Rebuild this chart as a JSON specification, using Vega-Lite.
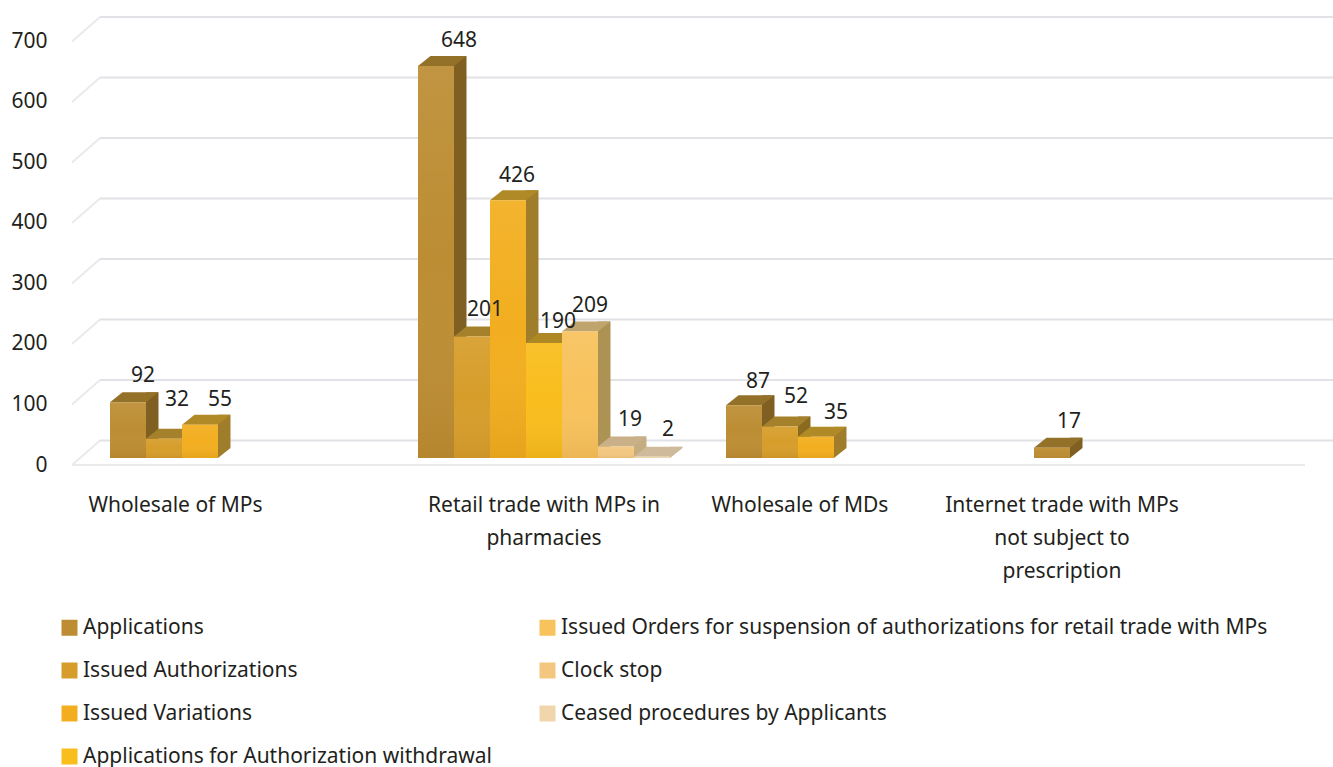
{
  "$schema": "https://vega.github.io/schema/vega-lite/v6.json",
  "width": 1333,
  "height": 767,
  "padding": 0,
  "autosize": "none",
  "background": "#ffffff",
  "config": {"view": {"stroke": null}, "text": {"font": "Noto Sans", "fontSize": 21, "color": "#231f20"}},
  "datasets": {
    "bars": [
      {"category": "Wholesale of MPs", "series": "Applications", "value": 92, "key": "a92"},
      {"category": "Wholesale of MPs", "series": "Issued Authorizations", "value": 32, "key": "a32"},
      {"category": "Wholesale of MPs", "series": "Issued Variations", "value": 55, "key": "a55"},
      {"category": "Retail trade with MPs in pharmacies", "series": "Applications", "value": 648, "key": "b648"},
      {"category": "Retail trade with MPs in pharmacies", "series": "Issued Authorizations", "value": 201, "key": "b201"},
      {"category": "Retail trade with MPs in pharmacies", "series": "Issued Variations", "value": 426, "key": "b426"},
      {"category": "Retail trade with MPs in pharmacies", "series": "Applications for Authorization withdrawal", "value": 190, "key": "b190"},
      {"category": "Retail trade with MPs in pharmacies", "series": "Issued Orders for suspension of authorizations for retail trade with MPs", "value": 209, "key": "b209"},
      {"category": "Retail trade with MPs in pharmacies", "series": "Clock stop", "value": 19, "key": "b19"},
      {"category": "Retail trade with MPs in pharmacies", "series": "Ceased procedures by Applicants", "value": 2, "key": "b2"},
      {"category": "Wholesale of MDs", "series": "Applications", "value": 87, "key": "c87"},
      {"category": "Wholesale of MDs", "series": "Issued Authorizations", "value": 52, "key": "c52"},
      {"category": "Wholesale of MDs", "series": "Issued Variations", "value": 35, "key": "c35"},
      {"category": "Internet trade with MPs not subject to prescription", "series": "Applications", "value": 17, "key": "d17"}
    ],
    "categories": [
      {"category": "Wholesale of MPs", "label": "Wholesale of MPs"},
      {"category": "Retail trade with MPs in pharmacies", "label": "Retail trade with MPs in\npharmacies"},
      {"category": "Wholesale of MDs", "label": "Wholesale of MDs"},
      {"category": "Internet trade with MPs not subject to prescription", "label": "Internet trade with MPs\nnot subject to\nprescription"}
    ],
    "wallLines": [
      {"tick": 0, "run": 100, "level": 28.9}, {"tick": 0, "run": 1333, "level": 28.9},
      {"tick": 100, "run": 100, "level": 128.9}, {"tick": 100, "run": 1333, "level": 128.9},
      {"tick": 200, "run": 100, "level": 228.9}, {"tick": 200, "run": 1333, "level": 228.9},
      {"tick": 300, "run": 100, "level": 328.9}, {"tick": 300, "run": 1333, "level": 328.9},
      {"tick": 400, "run": 100, "level": 428.9}, {"tick": 400, "run": 1333, "level": 428.9},
      {"tick": 500, "run": 100, "level": 528.9}, {"tick": 500, "run": 1333, "level": 528.9},
      {"tick": 600, "run": 100, "level": 628.9}, {"tick": 600, "run": 1333, "level": 628.9},
      {"tick": 700, "run": 100, "level": 728.9}, {"tick": 700, "run": 1333, "level": 728.9}
    ],
    "sideLines": [
      {"tick": 0, "run": 72, "level": -11.6}, {"tick": 0, "run": 100, "level": 28.9},
      {"tick": 100, "run": 72, "level": 88.4}, {"tick": 100, "run": 100, "level": 128.9},
      {"tick": 200, "run": 72, "level": 188.4}, {"tick": 200, "run": 100, "level": 228.9},
      {"tick": 300, "run": 72, "level": 288.4}, {"tick": 300, "run": 100, "level": 328.9},
      {"tick": 400, "run": 72, "level": 388.4}, {"tick": 400, "run": 100, "level": 428.9},
      {"tick": 500, "run": 72, "level": 488.4}, {"tick": 500, "run": 100, "level": 528.9},
      {"tick": 600, "run": 72, "level": 588.4}, {"tick": 600, "run": 100, "level": 628.9},
      {"tick": 700, "run": 72, "level": 688.4}, {"tick": 700, "run": 100, "level": 728.9},
      {"tick": -1, "run": 72, "level": -11.6}, {"tick": -1, "run": 1305, "level": -11.6}
    ]
  },
  "layer": [
    {
      "data": {"name": "sideLines"},
      "mark": {"type": "line", "stroke": "#e9eaec", "strokeWidth": 2},
      "encoding": {
        "x": {"field": "run", "type": "quantitative", "axis": null, "scale": {"domain": [0, 1333], "range": [0, 1333], "nice": false, "zero": false}},
        "y": {"field": "level", "type": "quantitative", "axis": {"orient": "left", "offset": -47, "values": [0, 100, 200, 300, 400, 500, 600, 700], "domain": false, "ticks": false, "grid": false, "title": null, "labelPadding": 0, "labelOffset": 7, "labelFont": "Noto Sans", "labelFontSize": 21, "labelColor": "#231f20"}, "scale": {"domain": [0, 757], "range": [458, 0], "nice": false, "zero": false}},
        "detail": {"field": "tick"}
      }
    },
    {
      "data": {"name": "wallLines"},
      "mark": {"type": "line", "stroke": "#e1e2e5", "strokeWidth": 2.2},
      "encoding": {
        "x": {"field": "run", "type": "quantitative", "axis": null, "scale": {"domain": [0, 1333], "range": [0, 1333], "nice": false, "zero": false}},
        "y": {"field": "level", "type": "quantitative"},
        "detail": {"field": "tick"}
      }
    },
    {
      "description": "Right-hand faces of the bars, pushed past the front face by the offset range",
      "data": {"name": "bars"},
      "mark": {"type": "bar", "width": 12.5, "yOffset": -10, "y2Offset": -10},
      "encoding": {
        "x": {"field": "category", "type": "nominal", "axis": null, "scale": {"domain": ["Wholesale of MPs", "Retail trade with MPs in pharmacies", "Wholesale of MDs", "Internet trade with MPs not subject to prescription"], "range": [82, 1314], "paddingInner": 0.1818, "paddingOuter": 0.0909}},
        "xOffset": {"field": "series", "type": "nominal", "scale": {"domain": ["Applications", "Issued Authorizations", "Issued Variations", "Applications for Authorization withdrawal", "Issued Orders for suspension of authorizations for retail trade with MPs", "Clock stop", "Ceased procedures by Applicants"], "range": [24.25, 276.25]}},
        "y": {"field": "value", "type": "quantitative"},
        "y2": {"datum": 0},
        "color": {"field": "series", "type": "nominal", "legend": null, "scale": {"domain": ["Applications", "Issued Authorizations", "Issued Variations", "Applications for Authorization withdrawal", "Issued Orders for suspension of authorizations for retail trade with MPs", "Clock stop", "Ceased procedures by Applicants"], "range": ["#7f5f22", "#8a6a1f", "#a07d2b", "#a88528", "#ac9353", "#c4ad80", "#c9b594"]}}
      }
    },
    {
      "description": "Lower corner of the right-hand faces",
      "data": {"name": "bars"},
      "mark": {"type": "point", "filled": true, "opacity": 1, "strokeWidth": 0, "size": 1296, "shape": "M1 0L1.694 -0.556L1 -0.556Z"},
      "encoding": {
        "x": {"field": "category", "type": "nominal", "axis": null, "scale": {"domain": ["Wholesale of MPs", "Retail trade with MPs in pharmacies", "Wholesale of MDs", "Internet trade with MPs not subject to prescription"], "range": [82, 1314], "paddingInner": 0.1818, "paddingOuter": 0.0909}},
        "xOffset": {"field": "series", "type": "nominal", "scale": {"domain": ["Applications", "Issued Authorizations", "Issued Variations", "Applications for Authorization withdrawal", "Issued Orders for suspension of authorizations for retail trade with MPs", "Clock stop", "Ceased procedures by Applicants"], "range": [0, 252]}},
        "y": {"datum": 0, "type": "quantitative"},
        "color": {"field": "series", "type": "nominal", "legend": null, "scale": {"domain": ["Applications", "Issued Authorizations", "Issued Variations", "Applications for Authorization withdrawal", "Issued Orders for suspension of authorizations for retail trade with MPs", "Clock stop", "Ceased procedures by Applicants"], "range": ["#7f5f22", "#8a6a1f", "#a07d2b", "#a88528", "#ac9353", "#c4ad80", "#c9b594"]}}
      }
    },
    {
      "description": "Top faces of the bars",
      "data": {"name": "bars"},
      "mark": {"type": "point", "filled": true, "opacity": 1, "strokeWidth": 0, "size": 1296, "shape": "M-1 0L1 0L1.694 -0.556L-0.306 -0.556Z"},
      "encoding": {
        "x": {"field": "category", "type": "nominal", "axis": null, "scale": {"domain": ["Wholesale of MPs", "Retail trade with MPs in pharmacies", "Wholesale of MDs", "Internet trade with MPs not subject to prescription"], "range": [82, 1314], "paddingInner": 0.1818, "paddingOuter": 0.0909}},
        "xOffset": {"field": "series", "type": "nominal", "scale": {"domain": ["Applications", "Issued Authorizations", "Issued Variations", "Applications for Authorization withdrawal", "Issued Orders for suspension of authorizations for retail trade with MPs", "Clock stop", "Ceased procedures by Applicants"], "range": [0, 252]}},
        "y": {"field": "value", "type": "quantitative"},
        "color": {"field": "series", "type": "nominal", "legend": null, "scale": {"domain": ["Applications", "Issued Authorizations", "Issued Variations", "Applications for Authorization withdrawal", "Issued Orders for suspension of authorizations for retail trade with MPs", "Clock stop", "Ceased procedures by Applicants"], "range": ["#947129", "#a5812c", "#b08a26", "#ad8825", "#bfa46d", "#c9b089", "#cfbb9b"]}}
      }
    },
    {
      "description": "Front faces of the bars, carrying the legend",
      "data": {"name": "bars"},
      "mark": {"type": "bar"},
      "encoding": {
        "x": {"field": "category", "type": "nominal", "axis": null, "scale": {"domain": ["Wholesale of MPs", "Retail trade with MPs in pharmacies", "Wholesale of MDs", "Internet trade with MPs not subject to prescription"], "range": [82, 1314], "paddingInner": 0.1818, "paddingOuter": 0.0909}},
        "xOffset": {"field": "series", "type": "nominal", "scale": {"domain": ["Applications", "Issued Authorizations", "Issued Variations", "Applications for Authorization withdrawal", "Issued Orders for suspension of authorizations for retail trade with MPs", "Clock stop", "Ceased procedures by Applicants"], "range": [0, 252]}},
        "y": {"field": "value", "type": "quantitative"},
        "y2": {"datum": 0},
        "color": {
          "field": "series",
          "type": "nominal",
          "scale": {
            "domain": ["Applications", "Issued Authorizations", "Issued Variations", "Applications for Authorization withdrawal", "Issued Orders for suspension of authorizations for retail trade with MPs", "Clock stop", "Ceased procedures by Applicants"],
            "range": ["#bc8d33", "#d69d2a", "#f2ae1f", "#f9bd1c", "#f8c25c", "#f3c780", "#f1d6ad"]
          },
          "legend": {
            "orient": "none",
            "legendX": 59,
            "legendY": 617,
            "title": null,
            "direction": "vertical",
            "columns": 2,
            "columnPadding": 45,
            "rowPadding": 21,
            "symbolType": "square",
            "symbolSize": 256,
            "symbolStrokeWidth": 0,
            "labelFont": "Noto Sans",
            "labelFontSize": 21,
            "labelColor": "#231f20",
            "labelLimit": 900,
            "labelOffset": 3
          }
        }
      }
    },
    {
      "description": "Soft vertical shading laid over the front faces",
      "data": {"name": "bars"},
      "mark": {
        "type": "bar",
        "fill": {"x1": 0, "y1": 0, "x2": 0, "y2": 1, "gradient": "linear", "stops": [{"offset": 0, "color": "rgba(255,255,255,0.07)"}, {"offset": 0.5, "color": "rgba(255,255,255,0)"}, {"offset": 1, "color": "rgba(120,70,0,0.1)"}]}
      },
      "encoding": {
        "x": {"field": "category", "type": "nominal", "axis": null, "scale": {"domain": ["Wholesale of MPs", "Retail trade with MPs in pharmacies", "Wholesale of MDs", "Internet trade with MPs not subject to prescription"], "range": [82, 1314], "paddingInner": 0.1818, "paddingOuter": 0.0909}},
        "xOffset": {"field": "series", "type": "nominal", "scale": {"domain": ["Applications", "Issued Authorizations", "Issued Variations", "Applications for Authorization withdrawal", "Issued Orders for suspension of authorizations for retail trade with MPs", "Clock stop", "Ceased procedures by Applicants"], "range": [0, 252]}},
        "y": {"field": "value", "type": "quantitative"},
        "y2": {"datum": 0}
      }
    },
    {
      "description": "Value labels above the bars",
      "data": {"name": "bars"},
      "mark": {
        "type": "text",
        "baseline": "middle",
        "dx": {"expr": "({a92:15,a32:13,a55:20,b648:23,b201:13,b426:9,b190:14,b209:10,b19:14,b2:16,c87:14,c52:16,c35:20,d17:17})[datum.key]"},
        "dy": {"expr": "({a92:-26,a32:-39,a55:-25,b648:-25,b201:-26,b426:-24,b190:-21,b209:-26,b19:-27,b2:-27,c87:-23,c52:-30,c35:-24,d17:-26})[datum.key]"}
      },
      "encoding": {
        "x": {"field": "category", "type": "nominal", "axis": null, "scale": {"domain": ["Wholesale of MPs", "Retail trade with MPs in pharmacies", "Wholesale of MDs", "Internet trade with MPs not subject to prescription"], "range": [82, 1314], "paddingInner": 0.1818, "paddingOuter": 0.0909}},
        "xOffset": {"field": "series", "type": "nominal", "scale": {"domain": ["Applications", "Issued Authorizations", "Issued Variations", "Applications for Authorization withdrawal", "Issued Orders for suspension of authorizations for retail trade with MPs", "Clock stop", "Ceased procedures by Applicants"], "range": [0, 252]}},
        "y": {"field": "value", "type": "quantitative"},
        "text": {"field": "value", "type": "quantitative"}
      }
    },
    {
      "description": "Category captions under the floor",
      "data": {"name": "categories"},
      "mark": {
        "type": "text",
        "baseline": "middle",
        "align": "center",
        "lineBreak": "\n",
        "lineHeight": 33,
        "dx": {"expr": "({'Wholesale of MPs':-60.5,'Retail trade with MPs in pharmacies':0,'Wholesale of MDs':-52,'Internet trade with MPs not subject to prescription':-98})[datum.category]"}
      },
      "encoding": {
        "x": {"field": "category", "type": "nominal", "axis": null, "scale": {"domain": ["Wholesale of MPs", "Retail trade with MPs in pharmacies", "Wholesale of MDs", "Internet trade with MPs not subject to prescription"], "range": [82, 1314], "paddingInner": 0.1818, "paddingOuter": 0.0909}},
        "y": {"datum": -80, "type": "quantitative"},
        "text": {"field": "label", "type": "nominal"}
      }
    }
  ],
  "resolve": {"scale": {"x": "independent", "xOffset": "independent", "color": "independent"}}
}
